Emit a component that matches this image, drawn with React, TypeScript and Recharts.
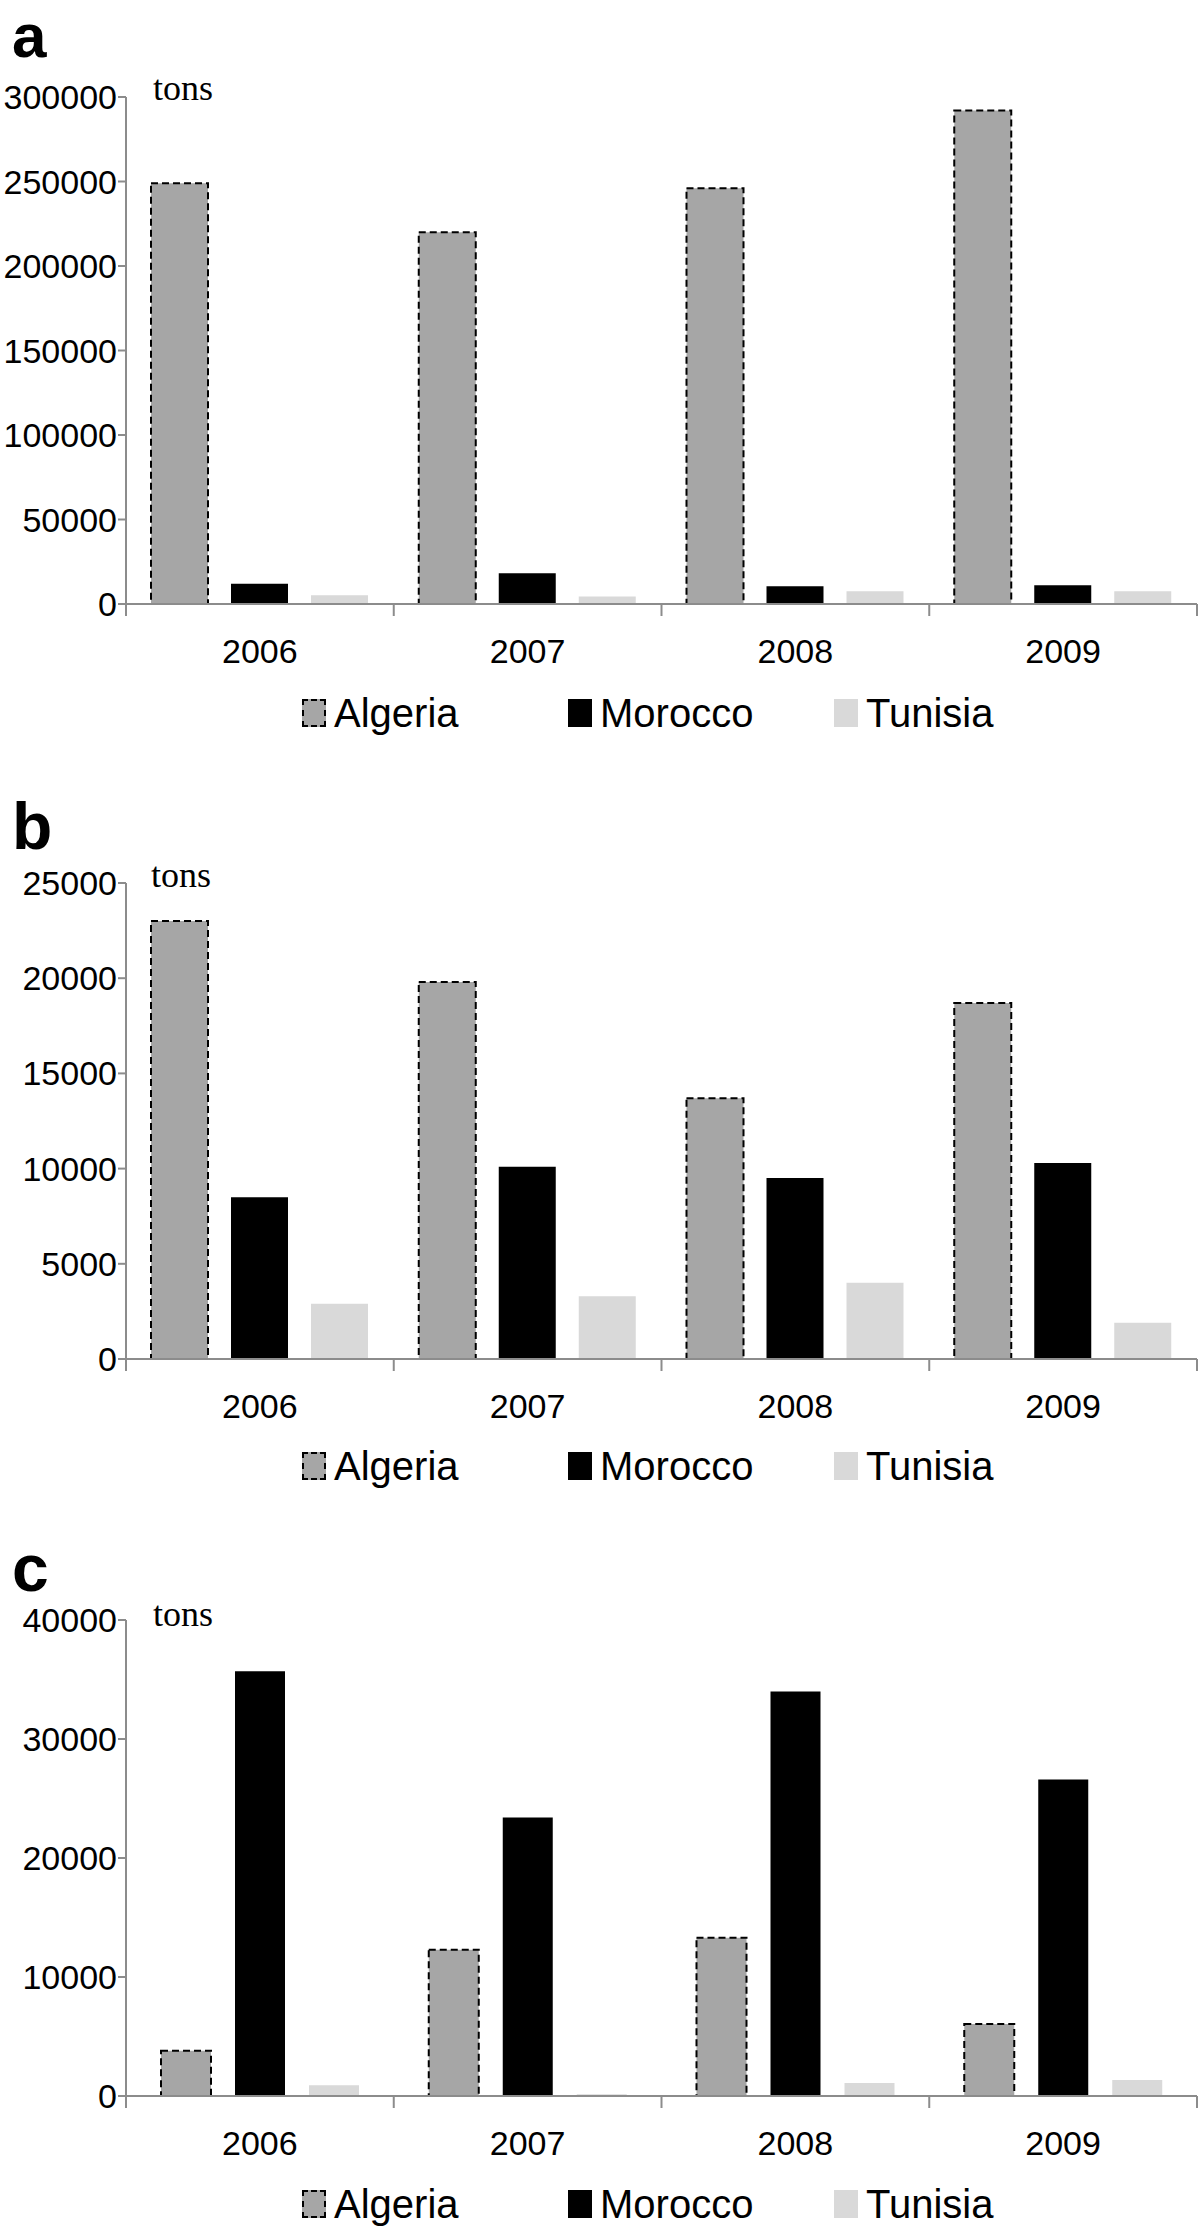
import React from "react";
import { BarChart, Bar, XAxis, YAxis, Legend } from "recharts";

// categories and series
const years = ["2006", "2007", "2008", "2009"];
const countries = ["Algeria", "Morocco", "Tunisia"];

// panel a
const algeriaA = [249000, 220000, 246000, 292000];
const moroccoA = [12000, 18200, 10500, 11100];
const tunisiaA = [5200, 4400, 7600, 7600];
const ticksA = [0, 50000, 100000, 150000, 200000, 250000, 300000];

// panel b
const algeriaB = [23000, 19800, 13700, 18700];
const moroccoB = [8500, 10100, 9500, 10300];
const tunisiaB = [2900, 3300, 4000, 1900];
const ticksB = [0, 5000, 10000, 15000, 20000, 25000];

// panel c
const algeriaC = [3800, 12300, 13300, 6050];
const moroccoC = [35700, 23400, 34000, 26600];
const tunisiaC = [900, 150, 1100, 1350];
const ticksC = [0, 10000, 20000, 30000, 40000];

const FILLS: Record<string, string> = {
  Algeria: "#a6a6a6",
  Morocco: "#000000",
  Tunisia: "#d9d9d9",
};
const AXIS = "#8c8c8c";
const SANS = "'Liberation Sans', Arial, sans-serif";
const SERIF = "'Liberation Serif', 'Times New Roman', serif";
const X_TICK_SIZE = 6;
const X_TICK_MARGIN = 29;

const buildData = (alg: number[], mor: number[], tun: number[]) =>
  years.map((year, i) => ({
    year,
    Algeria: alg[i],
    Morocco: mor[i],
    Tunisia: tun[i],
  }));

// year label plus tick marks at the category boundaries
const YearTick = (props: any) => {
  const { x, y, payload, index, visibleTicksCount } = props;
  const half = payload && typeof payload.offset === "number" ? payload.offset : 0;
  const axisY = y - X_TICK_SIZE - X_TICK_MARGIN;
  const isLast = index === visibleTicksCount - 1;
  return (
    <g>
      {half > 0 && (
        <line x1={x - half} x2={x - half} y1={axisY} y2={axisY + 12} stroke={AXIS} strokeWidth={2} />
      )}
      {half > 0 && isLast && (
        <line x1={x + half} x2={x + half} y1={axisY} y2={axisY + 12} stroke={AXIS} strokeWidth={2} />
      )}
      <text
        x={x}
        y={y}
        dy="0.71em"
        textAnchor="middle"
        fill="#000"
        fontSize={34}
        fontFamily={SANS}
      >
        {payload.value}
      </text>
    </g>
  );
};

const renderLegend = (props: any) => {
  const payload = props.payload || [];
  return (
    <div style={{ position: "relative", height: 44, width: 1200 }}>
      {payload.map((entry: any, i: number) => (
        <div
          key={`leg-${i}`}
          style={{
            position: "absolute",
            left: 302 + i * 266,
            top: 0,
            height: 44,
            display: "flex",
            alignItems: "center",
            fontFamily: SANS,
            fontSize: 40,
            color: "#000",
          }}
        >
          <span
            style={{
              display: "inline-block",
              width: 24,
              height: 28,
              background: entry.color,
              border: entry.value === "Algeria" ? "2px dashed #000" : "none",
              boxSizing: "border-box",
              marginRight: 8,
            }}
          />
          <span>{entry.value}</span>
        </div>
      ))}
    </div>
  );
};

interface PanelProps {
  data: any[];
  ticks: number[];
  plotTop: number;
  plotBottom: number;
  legendY: number;
  barSize: number;
  barGap: number;
}

const Panel: React.FC<PanelProps> = ({
  data,
  ticks,
  plotTop,
  plotBottom,
  legendY,
  barSize,
  barGap,
}) => {
  const top = plotTop - 40;
  const height = legendY + 22 - top;
  const xHeight = legendY - 22 - plotBottom;
  return (
    <div style={{ position: "absolute", left: 0, top, width: 1200, height }}>
      <BarChart
        width={1200}
        height={height}
        data={data}
        margin={{ top: 40, right: 3, left: 0, bottom: 0 }}
        barSize={barSize}
        barGap={barGap}
      >
        <XAxis
          dataKey="year"
          height={xHeight}
          axisLine={{ stroke: AXIS, strokeWidth: 2 }}
          tickLine={false}
          tickSize={X_TICK_SIZE}
          tickMargin={X_TICK_MARGIN}
          tick={<YearTick />}
          interval={0}
        />
        <YAxis
          width={126}
          domain={[0, ticks[ticks.length - 1]]}
          ticks={ticks}
          interval={0}
          axisLine={{ stroke: AXIS, strokeWidth: 2 }}
          tickLine={{ stroke: AXIS, strokeWidth: 2 }}
          tickSize={8}
          tickMargin={1}
          tick={{ fill: "#000", fontSize: 34, fontFamily: SANS }}
        />
        <Legend
          verticalAlign="bottom"
          content={renderLegend}
          wrapperStyle={{ left: 0, width: 1200 }}
        />
        {countries.map((c) => (
          <Bar
            key={c}
            dataKey={c}
            name={c}
            fill={FILLS[c]}
            stroke={c === "Algeria" ? "#000" : "none"}
            strokeWidth={c === "Algeria" ? 2 : 0}
            strokeDasharray={c === "Algeria" ? "7 4" : undefined}
            isAnimationActive={false}
          />
        ))}
      </BarChart>
    </div>
  );
};

export default function App() {
  return (
    <div
      style={{
        position: "absolute",
        left: 0,
        top: 0,
        width: 1200,
        height: 2227,
        background: "#fff",
      }}
    >
      <Panel
        data={buildData(algeriaA, moroccoA, tunisiaA)}
        ticks={ticksA}
        plotTop={97}
        plotBottom={604}
        legendY={713}
        barSize={57}
        barGap={23}
      />
      <Panel
        data={buildData(algeriaB, moroccoB, tunisiaB)}
        ticks={ticksB}
        plotTop={883}
        plotBottom={1359}
        legendY={1466}
        barSize={57}
        barGap={23}
      />
      <Panel
        data={buildData(algeriaC, moroccoC, tunisiaC)}
        ticks={ticksC}
        plotTop={1620}
        plotBottom={2096}
        legendY={2204}
        barSize={50}
        barGap={24}
      />
      <svg
        width={1200}
        height={2227}
        style={{ position: "absolute", left: 0, top: 0, pointerEvents: "none" }}
      >
        <text x={12} y={57} fontFamily={SANS} fontWeight="bold" fontSize={62}>
          a
        </text>
        <text x={12} y={849} fontFamily={SANS} fontWeight="bold" fontSize={66}>
          b
        </text>
        <text x={12} y={1591} fontFamily={SANS} fontWeight="bold" fontSize={66}>
          c
        </text>
        <text x={153} y={100} fontFamily={SERIF} fontSize={36}>
          tons
        </text>
        <text x={151} y={887} fontFamily={SERIF} fontSize={36}>
          tons
        </text>
        <text x={153} y={1626} fontFamily={SERIF} fontSize={36}>
          tons
        </text>
      </svg>
    </div>
  );
}
